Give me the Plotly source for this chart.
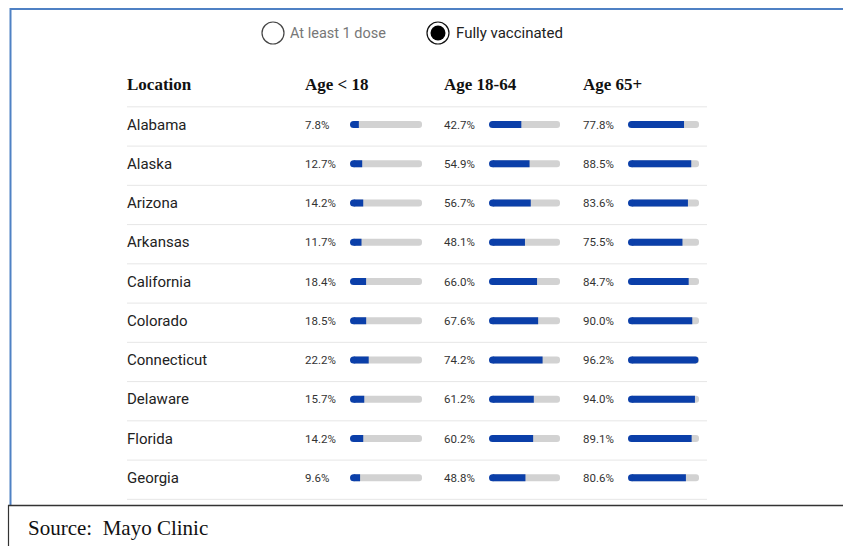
import plotly.graph_objects as go

W, H = 843, 546

states = ["Alabama", "Alaska", "Arizona", "Arkansas", "California",
          "Colorado", "Connecticut", "Delaware", "Florida", "Georgia"]
age_under_18 = [7.8, 12.7, 14.2, 11.7, 18.4, 18.5, 22.2, 15.7, 14.2, 9.6]
age_18_64 = [42.7, 54.9, 56.7, 48.1, 66.0, 67.6, 74.2, 61.2, 60.2, 48.8]
age_65_plus = [77.8, 88.5, 83.6, 75.5, 84.7, 90.0, 96.2, 94.0, 89.1, 80.6]
column_titles = ["Age < 18", "Age 18-64", "Age 65+"]

BLUE = "#0b3fa9"
TRACK = "#d2d2d2"
BAR_PX = 7  # bar thickness in pixels


def px(x):
    return x / W


def py(y):
    return 1 - y / H


# column layout in pixels: (value label x, bar start, bar end)
columns = [(305, 350, 422), (444, 489, 560), (583, 628, 699)]
series = [age_under_18, age_18_64, age_65_plus]

row0, step = 124.5, 39.25
bar_w = BAR_PX / step

fig = go.Figure()
axis_names = ["x", "x2", "x3"]
for vals, xa in zip(series, axis_names):
    full = [100.0] * len(states)
    # grey track and blue value bar, both with a rounded tip
    for arr, color in ((full, TRACK), (vals, BLUE)):
        fig.add_trace(go.Bar(
            y=states, x=arr, orientation="h", width=bar_w,
            marker_color=color, marker_line_width=0,
            xaxis=xa, yaxis="y", hoverinfo="skip", showlegend=False,
        ))
    # round cap at the base of each value bar
    fig.add_trace(go.Scatter(
        y=states, x=[0] * len(states), mode="markers",
        marker=dict(symbol="circle", size=BAR_PX, color=BLUE,
                    line=dict(width=0)),
        xaxis=xa, yaxis="y", hoverinfo="skip", showlegend=False,
        cliponaxis=False,
    ))

layout_axes = {}
for i, (lab_x, b0, b1) in enumerate(columns):
    key = "xaxis" if i == 0 else f"xaxis{i + 1}"
    layout_axes[key] = dict(domain=[px(b0 + BAR_PX / 2), px(b1)],
                            range=[0, 100], visible=False,
                            fixedrange=True, anchor="y")

y_top = -row0 / step
y_bot = (H - row0) / step

annotations = []
shapes = []

# row labels and value labels
for i, s in enumerate(states):
    annotations.append(dict(x=px(125), xref="paper", y=s, yref="y",
                            text=s, showarrow=False, xanchor="left",
                            yanchor="middle",
                            font=dict(family="Roboto", size=15, color="#222")))
    for (lab_x, b0, b1), vals in zip(columns, series):
        annotations.append(dict(x=px(lab_x - 2), xref="paper", y=s, yref="y",
                                text=f"{vals[i]:.1f}%", showarrow=False,
                                xanchor="left", yanchor="middle",
                                font=dict(family="Roboto", size=11.5,
                                          color="#333")))

# header row
header_font = dict(family="Liberation Serif", size=17, color="#111")
annotations.append(dict(x=px(125), xref="paper", y=py(84), yref="paper",
                        text="<b>Location</b>", showarrow=False,
                        xanchor="left", yanchor="middle", font=header_font))
for (lab_x, b0, b1), title in zip(columns, column_titles):
    annotations.append(dict(x=px(lab_x - 2), xref="paper", y=py(84),
                            yref="paper", text=f"<b>{title}</b>",
                            showarrow=False, xanchor="left",
                            yanchor="middle", font=header_font))

# row separators
for i in range(len(states) + 1):
    yv = i - 0.45
    shapes.append(dict(type="line", xref="paper", yref="y",
                       x0=px(127), x1=px(707), y0=yv, y1=yv,
                       line=dict(color="#e6e6e6", width=1)))

# radio-button toggle at the top
shapes.append(dict(type="circle", xref="paper", yref="paper",
                   x0=px(262), x1=px(284), y0=py(22), y1=py(44),
                   line=dict(color="#444", width=1.2)))
shapes.append(dict(type="circle", xref="paper", yref="paper",
                   x0=px(427), x1=px(449), y0=py(22), y1=py(44),
                   line=dict(color="#111", width=1.2)))
shapes.append(dict(type="circle", xref="paper", yref="paper",
                   x0=px(430.5), x1=px(445.5), y0=py(25.5), y1=py(40.5),
                   fillcolor="#000", line=dict(color="#000", width=0)))
annotations.append(dict(x=px(288), xref="paper", y=py(33), yref="paper",
                        text="At least 1 dose", showarrow=False,
                        xanchor="left", yanchor="middle",
                        font=dict(family="Roboto", size=14.5, color="#777")))
annotations.append(dict(x=px(454), xref="paper", y=py(33), yref="paper",
                        text="Fully vaccinated", showarrow=False,
                        xanchor="left", yanchor="middle",
                        font=dict(family="Roboto", size=15, color="#222")))

# frame lines
shapes.append(dict(type="line", xref="paper", yref="paper",
                   x0=px(10), x1=1, y0=py(9), y1=py(9),
                   line=dict(color="#4f81c4", width=2)))
shapes.append(dict(type="line", xref="paper", yref="paper",
                   x0=px(10.5), x1=px(10.5), y0=py(8), y1=py(505),
                   line=dict(color="#4f81c4", width=2)))
shapes.append(dict(type="line", xref="paper", yref="paper",
                   x0=px(8), x1=1, y0=py(505.5), y1=py(505.5),
                   line=dict(color="#333", width=1.5)))
shapes.append(dict(type="line", xref="paper", yref="paper",
                   x0=px(8.5), x1=px(8.5), y0=py(505), y1=0,
                   line=dict(color="#333", width=1.2)))
annotations.append(dict(x=px(26), xref="paper", y=py(528), yref="paper",
                        text="Source:&nbsp; Mayo Clinic", showarrow=False,
                        xanchor="left", yanchor="middle",
                        font=dict(family="Liberation Serif", size=21,
                                  color="#111")))

fig.update_layout(
    width=W, height=H,
    margin=dict(l=0, r=0, t=0, b=0),
    paper_bgcolor="white", plot_bgcolor="white",
    barmode="overlay", barcornerradius=BAR_PX / 2,
    yaxis=dict(type="category", categoryarray=states,
               range=[y_bot, y_top], domain=[0, 1], visible=False,
               fixedrange=True),
    annotations=annotations, shapes=shapes,
    showlegend=False,
    **layout_axes,
)

fig.write_html("out.html")
